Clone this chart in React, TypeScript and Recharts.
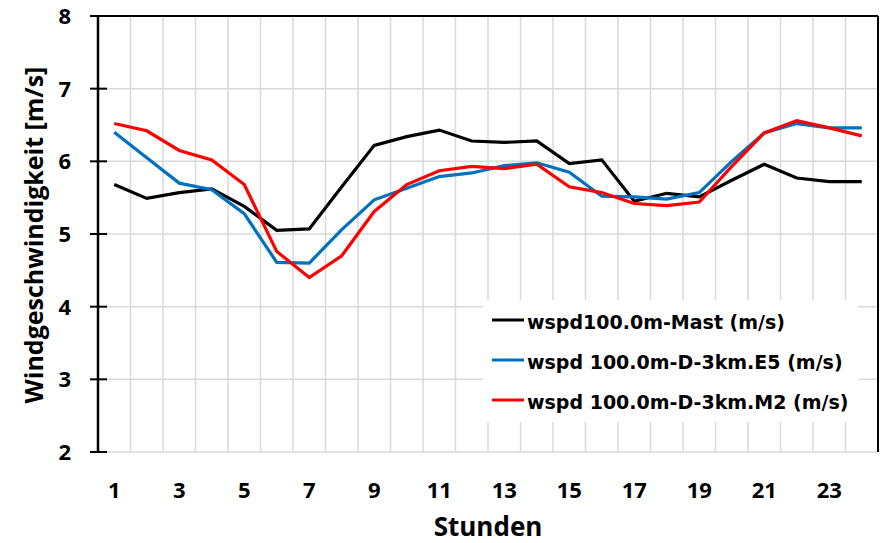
import React from 'react';
import { LineChart, Line, XAxis, YAxis, CartesianGrid, Legend, ReferenceLine } from 'recharts';

const hours = [1, 2, 3, 4, 5, 6, 7, 8, 9, 10, 11, 12, 13, 14, 15, 16, 17, 18, 19, 20, 21, 22, 23, 24];
const mastValues = [5.68, 5.49, 5.57, 5.62, 5.38, 5.05, 5.07, 5.65, 6.22, 6.34, 6.43, 6.28, 6.26, 6.28, 5.97, 6.02, 5.45, 5.56, 5.51, 5.74, 5.96, 5.77, 5.72, 5.72];
const e5Values = [6.4, 6.05, 5.7, 5.61, 5.28, 4.61, 4.6, 5.06, 5.47, 5.63, 5.79, 5.84, 5.94, 5.98, 5.85, 5.52, 5.51, 5.48, 5.57, 6.0, 6.39, 6.52, 6.46, 6.46];
const m2Values = [6.52, 6.42, 6.15, 6.02, 5.68, 4.76, 4.4, 4.7, 5.31, 5.68, 5.87, 5.93, 5.9, 5.96, 5.65, 5.57, 5.42, 5.39, 5.44, 5.93, 6.39, 6.56, 6.46, 6.35];

const hourLabelTicks = [1, 3, 5, 7, 9, 11, 13, 15, 17, 19, 21, 23];
const hourBoundaries = [0.5, 1.5, 2.5, 3.5, 4.5, 5.5, 6.5, 7.5, 8.5, 9.5, 10.5, 11.5, 12.5, 13.5, 14.5, 15.5, 16.5, 17.5, 18.5, 19.5, 20.5, 21.5, 22.5, 23.5, 24.5];
const speedTicks = [2, 3, 4, 5, 6, 7, 8];

const seriesNames = ['wspd100.0m-Mast (m/s)', 'wspd 100.0m-D-3km.E5 (m/s)', 'wspd 100.0m-D-3km.M2 (m/s)'];
const seriesColors = ['#000000', '#0070C0', '#FF0000'];
const xTitle = 'Stunden';
const yTitle = 'Windgeschwindigkeit [m/s]';

const data = hours.map((h, i) => ({ hour: h, mast: mastValues[i], e5: e5Values[i], m2: m2Values[i] }));

const LABEL_FONT = '"Open Sans", Lato, sans-serif';

const BoundaryTick = (props: any) => {
  const { x, y } = props;
  return <line x1={x} x2={x} y1={y - 9} y2={y + 10} stroke="#000" strokeWidth={2} />;
};

const HourLabelTick = (props: any) => {
  const { x, y, payload } = props;
  return (
    <text x={x} y={y + 46} textAnchor="middle" fontFamily={LABEL_FONT} fontWeight={700} fontSize={22} fill="#000">
      {payload.value}
    </text>
  );
};

const SpeedTick = (props: any) => {
  const { x, y, payload } = props;
  return (
    <g>
      <line x1={x - 8} x2={x + 9} y1={y} y2={y} stroke="#000" strokeWidth={2} />
      <text x={x - 27} y={y + 8} textAnchor="end" fontFamily={LABEL_FONT} fontWeight={700} fontSize={22} fill="#000">
        {payload.value}
      </text>
    </g>
  );
};

const YTitle = (props: any) => {
  const vb = props.viewBox || { x: 0, y: 16, width: 98, height: 436 };
  const cx = vb.x + 43;
  const cy = vb.y + vb.height / 2 + 1;
  return (
    <text x={cx} y={cy} transform={`rotate(-90, ${cx}, ${cy})`} textAnchor="middle" fontFamily={LABEL_FONT} fontWeight={700} fontSize={25} fill="#000">
      {yTitle}
    </text>
  );
};

const XTitle = (props: any) => {
  const vb = props.viewBox || { x: 98, y: 452, width: 780, height: 91 };
  return (
    <text x={vb.x + vb.width / 2} y={vb.y + 83.5} textAnchor="middle" fontFamily={LABEL_FONT} fontWeight={700} fontSize={26} fill="#000">
      {xTitle}
    </text>
  );
};

const LegendContent = (props: any) => {
  const payload = [...(props.payload || [])].sort(
    (a: any, b: any) => seriesNames.indexOf(a.value) - seriesNames.indexOf(b.value)
  );
  return (
    <svg width={375} height={122} style={{ display: 'block' }}>
      <rect x={0} y={0} width={375} height={122} fill="#fff" />
      {payload.map((entry: any, i: number) => {
        const cy = 20 + i * 40;
        return (
          <g key={i}>
            <line x1={9} x2={41} y1={cy} y2={cy} stroke={entry.color} strokeWidth={3} />
            <text x={44} y={cy + 9} fontFamily='"DejaVu Sans", sans-serif' fontWeight={700} fontSize={19} fill="#000">
              {entry.value}
            </text>
          </g>
        );
      })}
    </svg>
  );
};

export default function App() {
  return (
    <div style={{ position: 'absolute', left: 0, top: 0, width: 881, height: 543, background: '#fff' }}>
      <LineChart width={881} height={543} data={data} margin={{ top: 16, right: 3, bottom: 0, left: 0 }}>
        <CartesianGrid xAxisId="b" yAxisId="y" stroke="#D9D9D9" strokeWidth={1.5} verticalValues={hourBoundaries} />
        <XAxis
          xAxisId="b"
          type="number"
          dataKey="hour"
          domain={[0.5, 24.5]}
          ticks={hourBoundaries}
          interval={0}
          height={0}
          tickSize={0}
          tickMargin={0}
          tickLine={false}
          tick={<BoundaryTick />}
          axisLine={{ stroke: '#000', strokeWidth: 2.5 }}
          allowDataOverflow
        />
        <XAxis
          xAxisId="h"
          type="number"
          dataKey="hour"
          domain={[0.5, 24.5]}
          ticks={hourLabelTicks}
          interval={0}
          height={91}
          tickSize={0}
          tickMargin={0}
          tickLine={false}
          axisLine={false}
          tick={<HourLabelTick />}
          label={<XTitle />}
          allowDataOverflow
        />
        <YAxis
          yAxisId="y"
          type="number"
          domain={[2, 8]}
          ticks={speedTicks}
          interval={0}
          width={98}
          tickSize={0}
          tickMargin={0}
          tickLine={false}
          tick={<SpeedTick />}
          axisLine={{ stroke: '#000', strokeWidth: 2.5 }}
          label={<YTitle />}
          allowDataOverflow
        />
        <ReferenceLine xAxisId="h" yAxisId="y" y={8} stroke="#000" strokeWidth={2} />
        <ReferenceLine xAxisId="h" yAxisId="y" x={24.5} stroke="#000" strokeWidth={2} />
        <Line xAxisId="h" yAxisId="y" type="linear" dataKey="mast" name={seriesNames[0]} stroke={seriesColors[0]} strokeWidth={3.2} dot={false} isAnimationActive={false} />
        <Line xAxisId="h" yAxisId="y" type="linear" dataKey="e5" name={seriesNames[1]} stroke={seriesColors[1]} strokeWidth={3.2} dot={false} isAnimationActive={false} />
        <Line xAxisId="h" yAxisId="y" type="linear" dataKey="m2" name={seriesNames[2]} stroke={seriesColors[2]} strokeWidth={3.2} dot={false} isAnimationActive={false} />
        <Legend
          layout="horizontal"
          verticalAlign="middle"
          align="center"
          width={375}
          height={122}
          content={<LegendContent />}
          wrapperStyle={{ left: 483, top: 300, width: 375, height: 122, backgroundColor: '#fff' }}
        />
      </LineChart>
    </div>
  );
}
